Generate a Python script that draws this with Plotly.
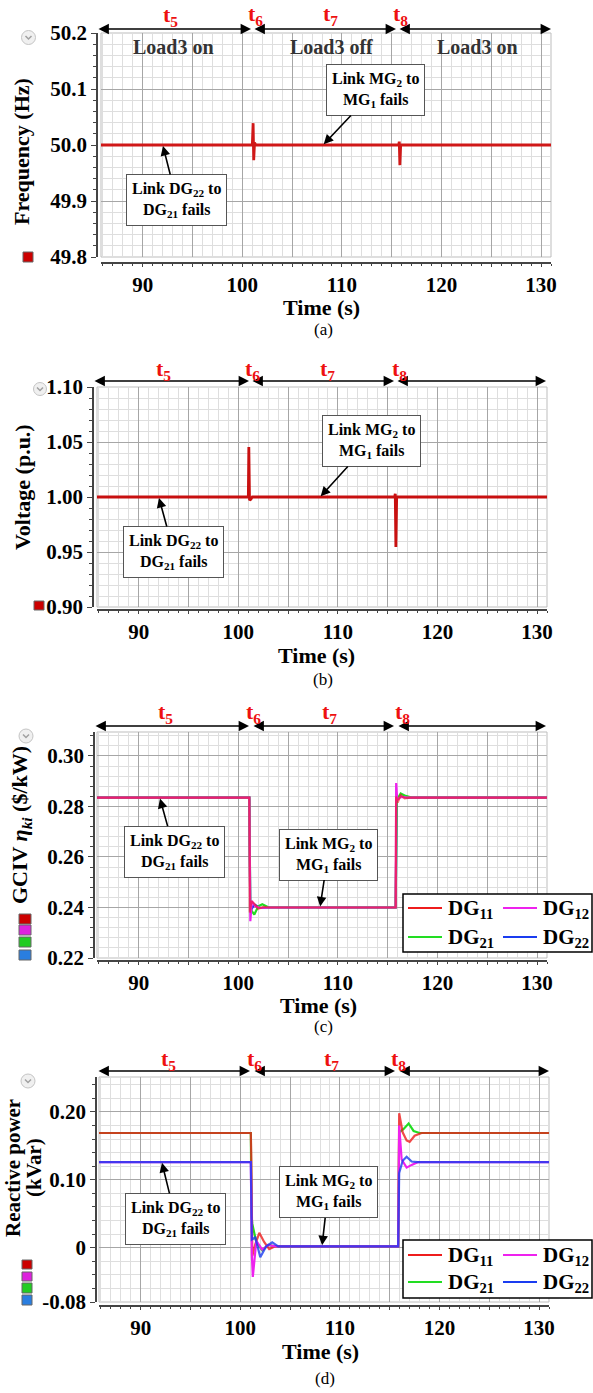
import plotly.graph_objects as go

W, H = 593, 1393

# ---------------- data ----------------
# (a) frequency (Hz)
t_freq = [85.8, 101.0, 101.08, 101.14, 101.22, 101.35, 115.7, 115.76, 115.82, 115.9, 131.0]
freq = [50.0, 50.0, 50.039, 49.973, 50.004, 50.0, 50.0, 50.006, 49.964, 50.0, 50.0]

# (b) voltage (p.u.)
t_volt = [85.8, 101.0, 101.05, 101.12, 101.25, 101.4, 115.7, 115.76, 115.82, 115.9, 131.0]
volt = [1.0, 1.0, 1.0455, 0.997, 0.998, 1.0, 1.0, 1.003, 0.9545, 1.0, 1.0]

# (c) GCIV eta_ki ($/kW)
t_g11 = [85.8, 101.1, 101.15, 101.3, 101.6, 102.0, 102.5, 103.0, 115.8, 115.85, 116.0, 116.3, 116.7, 117.2, 131.0]
g11 = [0.2835, 0.2835, 0.238, 0.2425, 0.2415, 0.2395, 0.2402, 0.240, 0.240, 0.284, 0.2815, 0.2845, 0.2832, 0.2835, 0.2835]
t_g12 = [85.8, 101.1, 101.2, 101.35, 101.7, 102.2, 103.0, 115.8, 115.85, 115.95, 116.3, 117.0, 131.0]
g12 = [0.2835, 0.2835, 0.2346, 0.2425, 0.2405, 0.2398, 0.240, 0.240, 0.2893, 0.2825, 0.2838, 0.2835, 0.2835]
t_g21 = [85.8, 101.1, 101.2, 101.6, 102.0, 102.4, 103.0, 115.8, 115.9, 116.3, 116.8, 117.4, 131.0]
g21 = [0.2835, 0.2835, 0.2395, 0.2372, 0.2405, 0.2413, 0.2401, 0.240, 0.2825, 0.2852, 0.2842, 0.2835, 0.2835]
t_g22 = [85.8, 101.1, 101.2, 101.6, 102.2, 103.0, 115.8, 115.9, 116.3, 117.0, 131.0]
g22 = [0.2835, 0.2835, 0.2385, 0.2412, 0.2398, 0.240, 0.240, 0.2830, 0.2840, 0.2835, 0.2835]

# (d) reactive power (kVar)
t_q11 = [85.8, 101.05, 101.1, 101.2, 101.5, 101.9, 102.4, 102.9, 103.5, 115.85, 115.95, 116.3, 116.7, 117.0, 117.5, 118.2, 131.0]
q11 = [0.169, 0.169, 0.13, -0.012, 0.005, 0.022, 0.008, -0.002, 0.002, 0.002, 0.198, 0.17, 0.158, 0.156, 0.165, 0.169, 0.169]
t_q12 = [85.8, 101.05, 101.15, 101.25, 101.6, 102.2, 102.8, 103.5, 115.85, 115.95, 116.2, 116.7, 117.2, 117.8, 131.0]
q12 = [0.126, 0.126, -0.01, -0.043, 0.01, -0.003, 0.004, 0.002, 0.002, 0.18, 0.13, 0.118, 0.122, 0.126, 0.126]
t_q21 = [85.8, 101.05, 101.12, 101.2, 101.6, 102.2, 102.8, 103.5, 115.85, 115.95, 116.4, 116.9, 117.4, 118.0, 131.0]
q21 = [0.169, 0.169, 0.048, 0.035, 0.008, -0.004, 0.004, 0.002, 0.002, 0.17, 0.175, 0.183, 0.172, 0.169, 0.169]
t_q22 = [85.8, 101.05, 101.15, 101.5, 102.0, 102.6, 103.2, 103.8, 115.85, 115.95, 116.3, 116.7, 117.2, 117.8, 131.0]
q22 = [0.126, 0.126, 0.012, 0.015, -0.014, 0.002, 0.008, 0.002, 0.002, 0.11, 0.128, 0.134, 0.127, 0.126, 0.126]

x_tickvals = [90, 95, 100, 105, 110, 115, 120, 125, 130]
x_ticktext = ["90", "", "100", "", "110", "", "120", "", "130"]
period_labels = ["t<sub>5</sub>", "t<sub>6</sub>", "t<sub>7</sub>", "t<sub>8</sub>"]
load_labels = ["Load3 on", "Load3 off", "Load3 on"]
series_names = ["DG<sub>11</sub>", "DG<sub>12</sub>", "DG<sub>21</sub>", "DG<sub>22</sub>"]
ytitles = [["Frequency (Hz)"], ["Voltage (p.u.)"], ["GCIV <i>η<sub>ki</sub></i> ($/kW)"], ["Reactive power", "(kVar)"]]
panel_tags = ["(a)", "(b)", "(c)", "(d)"]
box1_text = "Link DG<sub>22</sub> to<br>DG<sub>21</sub> fails"
box2_text = "Link MG<sub>2</sub> to<br>MG<sub>1</sub> fails"

# ---------------- styling ----------------
SERIF = "Liberation Serif"
C11, C12, C21, C22 = "#ee1c1c", "#ee22ee", "#22dd22", "#1a3cf0"
RED_LINE = "#d01818"


def fx(p):
    return p / W


def fy(p):
    return 1 - p / H


XR = [85.8, 131.0]

panels = [
    dict(left=101, right=551, top=33, bot=257, yline=97, xline=263, yr=[49.8, 50.2], dtick=0.1, minor=0.02, fmt=".1f",
         arrow_y=29, seg=[(97, 251), (253, 396), (398, 551)], tl=[(170, 16), (255, 15), (330, 15), (400, 15)],
         time=(321, 307), tag=(323, 330), ytl=[(22, 152)]),
    dict(left=97, right=547, top=387, bot=607, yline=93, xline=610, yr=[0.9, 1.1], dtick=0.05, minor=0.01, fmt=".2f",
         arrow_y=381, seg=[(93, 249), (251, 394), (396, 546)], tl=[(163, 370), (252, 370), (327, 370), (399, 370)],
         time=(316, 655), tag=(323, 680), ytl=[(23, 487)]),
    dict(left=97, right=547, top=732, bot=958, yline=94, xline=961, yr=[0.22, 0.3095], dtick=0.02, minor=0.004, fmt=".2f",
         arrow_y=726, seg=[(94, 249), (252, 394), (397, 546)], tl=[(165, 713), (253, 713), (329, 713), (402, 713)],
         time=(318, 1006), tag=(323, 1026), ytl=[(21, 825)]),
    dict(left=99, right=549, top=1077, bot=1302, yline=96, xline=1306, yr=[-0.08, 0.2515], dtick=None, minor=0.02, fmt=None,
         arrow_y=1071, seg=[(97, 250), (253, 395), (398, 549)], tl=[(168, 1060), (254, 1060), (332, 1060), (398, 1060)],
         time=(320, 1351), tag=(325, 1378), ytl=[(13, 1168), (34, 1168)]),
]

fig = go.Figure()

# traces
fig.add_trace(go.Scatter(x=t_freq, y=freq, mode="lines", line=dict(color=RED_LINE, width=2.8),
                         xaxis="x", yaxis="y", showlegend=False))
fig.add_trace(go.Scatter(x=t_volt, y=volt, mode="lines", line=dict(color="#c81010", width=2.8),
                         xaxis="x2", yaxis="y2", showlegend=False))
for tx, vy, c, op in [(t_g22, g22, C22, 1), (t_g21, g21, C21, 1), (t_g12, g12, C12, 1), (t_g11, g11, C11, 0.6)]:
    fig.add_trace(go.Scatter(x=tx, y=vy, mode="lines", line=dict(color=c, width=2.2), opacity=op,
                             xaxis="x3", yaxis="y3", showlegend=False))
for tx, vy, c, op in [(t_q21, q21, C21, 1), (t_q11, q11, C11, 0.8), (t_q12, q12, C12, 1), (t_q22, q22, C22, 0.8)]:
    fig.add_trace(go.Scatter(x=tx, y=vy, mode="lines", line=dict(color=c, width=2.2), opacity=op,
                             xaxis="x4", yaxis="y4", showlegend=False))

layout = dict(width=W, height=H, margin=dict(l=0, r=0, t=0, b=0, autoexpand=False), paper_bgcolor="white",
              plot_bgcolor="white", showlegend=False)

shapes = []
annotations = []

tickfont = dict(family=SERIF, size=21, color="black", weight="bold")

for i, p in enumerate(panels):
    n = "" if i == 0 else str(i + 1)
    xa = dict(domain=[fx(p["left"]), fx(p["right"])], range=XR, anchor="free", position=fy(p["xline"]),
              tickmode="array", tickvals=x_tickvals, ticktext=x_ticktext, ticks="outside", ticklen=3,
              tickcolor="#444", showline=True, linecolor="#444", linewidth=1.5,
              showgrid=True, gridcolor="#a6a6a6", gridwidth=1, zeroline=False, tickfont=tickfont,
              minor=dict(tickmode="linear", tick0=0, dtick=1, ticks="outside", ticklen=2, tickcolor="#444",
                         showgrid=True, gridcolor="#dedede", gridwidth=1))
    ya = dict(domain=[fy(p["bot"]), fy(p["top"])], range=p["yr"], anchor="free", position=fx(p["yline"]),
              ticks="outside", ticklen=5, tickcolor="#444", showline=True, linecolor="#444", linewidth=1.5,
              showgrid=True, gridcolor="#a6a6a6", gridwidth=1, zeroline=False, tickfont=tickfont,
              minor=dict(tickmode="linear", tick0=0, dtick=p["minor"], ticks="outside", ticklen=3, tickcolor="#444",
                         showgrid=True, gridcolor="#dedede", gridwidth=1))
    if p["dtick"] is not None:
        ya.update(tickmode="linear", tick0=0, dtick=p["dtick"], tickformat=p["fmt"])
    else:
        ya.update(tickmode="array", tickvals=[-0.08, 0, 0.1, 0.2], ticktext=["-0.08", "0", "0.10", "0.20"])
    layout["xaxis" + n] = xa
    layout["yaxis" + n] = ya

    # plot frame
    shapes.append(dict(type="rect", xref="paper", yref="paper", x0=fx(p["left"]), x1=fx(p["right"]),
                       y0=fy(p["bot"]), y1=fy(p["top"]), line=dict(color="#bdbdbd", width=1), layer="below"))

    # double arrows on top
    for (a0, a1) in p["seg"]:
        annotations.append(dict(xref="paper", yref="paper", x=fx(a1), y=fy(p["arrow_y"]), ax=a0 - a1, ay=0,
                                axref="pixel", ayref="pixel", text="", showarrow=True, arrowside="end+start",
                                arrowhead=2, arrowsize=1.3, arrowwidth=1.6, arrowcolor="black",
                                standoff=0, startstandoff=0))
    for lab, (lx, ly) in zip(period_labels, p["tl"]):
        annotations.append(dict(xref="paper", yref="paper", x=fx(lx), y=fy(ly), text=lab, showarrow=False,
                                xanchor="center", yanchor="middle",
                                font=dict(family=SERIF, size=22, color="#ee1111", weight="bold")))

    # axis titles & captions
    for txt, (tx_, ty_) in zip(ytitles[i], p["ytl"]):
        annotations.append(dict(xref="paper", yref="paper", x=fx(tx_), y=fy(ty_), text=txt,
                                textangle=-90, showarrow=False, xanchor="center", yanchor="middle",
                                font=dict(family=SERIF, size=22 if i < 3 else 21, color="black", weight="bold")))
    annotations.append(dict(xref="paper", yref="paper", x=fx(p["time"][0]), y=fy(p["time"][1]), text="Time (s)",
                            showarrow=False, xanchor="center", yanchor="middle",
                            font=dict(family=SERIF, size=22, color="black", weight="bold")))
    annotations.append(dict(xref="paper", yref="paper", x=fx(p["tag"][0]), y=fy(p["tag"][1]), text=panel_tags[i],
                            showarrow=False, xanchor="center", yanchor="middle",
                            font=dict(family=SERIF, size=17, color="black")))

# load labels (panel a)
for lab, lx in zip(load_labels, [173, 332, 477]):
    annotations.append(dict(xref="paper", yref="paper", x=fx(lx), y=fy(47), text=lab, showarrow=False,
                            xanchor="center", yanchor="middle",
                            font=dict(family=SERIF, size=20, color="#333333", weight="bold")))

# callout boxes: (axis suffix, target x, target y, ax, ay, text)
callouts = [
    ("", 92.0, 50.0, 14, 55, box1_text), ("", 108.1, 50.0, 52, -55, box2_text),
    ("2", 92.0, 1.0, 15, 55, box1_text), ("2", 108.2, 1.0, 51, -56, box2_text),
    ("3", 92.1, 0.2835, 15, 54, box1_text), ("3", 108.2, 0.240, 8, -53, box2_text),
    ("4", 92.1, 0.1265, 14, 57, box1_text), ("4", 108.2, 0.002, 6, -54, box2_text),
]
for sfx, tx, ty, ax, ay, txt in callouts:
    annotations.append(dict(xref="x" + sfx, yref="y" + sfx, x=tx, y=ty, ax=ax, ay=ay, text=txt, showarrow=True,
                            arrowhead=2, arrowsize=1.2, arrowwidth=1.6, arrowcolor="black", standoff=1,
                            bordercolor="#555555", borderwidth=1, borderpad=5, bgcolor="white",
                            font=dict(family=SERIF, size=16, color="black", weight="bold"), align="center"))

# manual legends for (c) and (d)
legend_colors = [C11, C12, C21, C22]
for (by0, by1, r1, r2) in [(894, 952, 908, 937), (1240, 1298, 1255, 1282)]:
    shapes.append(dict(type="rect", xref="paper", yref="paper", x0=fx(403), x1=fx(592), y0=fy(by1), y1=fy(by0),
                       line=dict(color="black", width=1.5), fillcolor="white", layer="above"))
    pos = [(408, r1), (503, r1), (408, r2), (503, r2)]
    for (lx, ly), c, name in zip(pos, legend_colors, series_names):
        shapes.append(dict(type="line", xref="paper", yref="paper", x0=fx(lx), x1=fx(lx + 34), y0=fy(ly), y1=fy(ly),
                           line=dict(color=c, width=2), layer="above"))
        annotations.append(dict(xref="paper", yref="paper", x=fx(lx + 38), y=fy(ly + 1), text=name, showarrow=False,
                                xanchor="left", yanchor="middle",
                                font=dict(family=SERIF, size=21, color="black", weight="bold")))

# decorative icons (circle buttons and colour swatches)
for cx, cy, r in [(28.5, 37.5, 7), (40, 389, 6.5), (26, 736, 7), (28, 1081, 7)]:
    shapes.append(dict(type="circle", xref="paper", yref="paper", x0=fx(cx - r), x1=fx(cx + r), y0=fy(cy + r),
                       y1=fy(cy - r), line=dict(color="#c4c4c4", width=1), fillcolor="#f0f0f0"))
    shapes.append(dict(type="path", xref="paper", yref="paper",
                       path=f"M {fx(cx-3)} {fy(cy-1.5)} L {fx(cx)} {fy(cy+1.5)} L {fx(cx+3)} {fy(cy-1.5)}",
                       line=dict(color="#a0a0a0", width=1.5)))
swatches = [
    (23, 33, 252, 262, "#cc0000"),
    (34, 44, 601, 610, "#cc0000"),
    (19, 31, 914, 924, "#cc0000"), (19, 31, 925, 935, "#dd22dd"), (19, 31, 937, 947, "#22cc22"), (19, 31, 950, 960, "#2a7ee0"),
    (22, 32, 1260, 1269, "#cc0000"), (22, 32, 1272, 1281, "#dd22dd"), (22, 32, 1283, 1293, "#22cc22"), (22, 32, 1295, 1305, "#2a7ee0"),
]
for x0, x1, y0, y1, c in swatches:
    shapes.append(dict(type="rect", xref="paper", yref="paper", x0=fx(x0), x1=fx(x1), y0=fy(y1), y1=fy(y0),
                       line=dict(color="#666666", width=1), fillcolor=c))

layout["shapes"] = shapes
layout["annotations"] = annotations
fig.update_layout(**layout)
fig.write_html("out.html")
